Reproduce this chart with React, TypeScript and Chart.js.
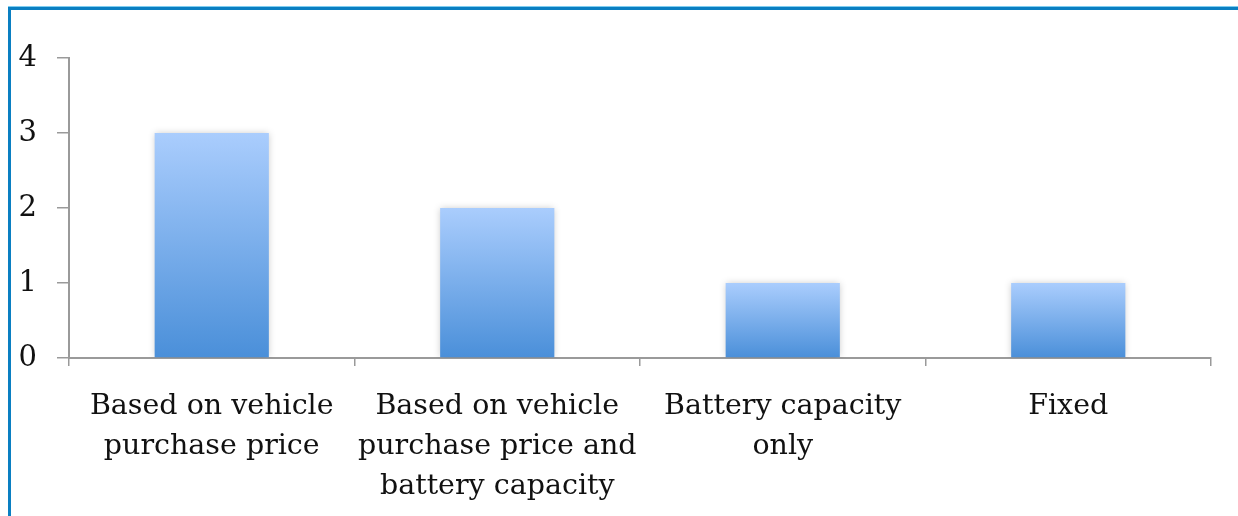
import React, { useEffect, useRef } from "react";
import { Chart, registerables } from "chart.js";

Chart.register(...registerables);

const categories: string[][] = [
  ["Based on vehicle", "purchase price"],
  ["Based on vehicle", "purchase price and", "battery capacity"],
  ["Battery capacity", "only"],
  ["Fixed"],
];
const values: number[] = [3, 2, 1, 1];
const yTicks: number[] = [0, 1, 2, 3, 4];

const FONT = "'DejaVu Serif', 'Liberation Serif', serif";

const shadowPlugin = {
  id: "barShadow",
  beforeDatasetsDraw(chart: any) {
    const c = chart.ctx;
    c.save();
    c.shadowColor = "rgba(0,0,0,0.22)";
    c.shadowBlur = 7;
    c.shadowOffsetX = 0;
    c.shadowOffsetY = 0;
  },
  afterDatasetsDraw(chart: any) {
    chart.ctx.restore();
  },
};

export default function App() {
  const ref = useRef<HTMLCanvasElement>(null);
  useEffect(() => {
    document.body.style.margin = "0";
    const chart = new Chart(ref.current!, {
      type: "bar",
      data: {
        labels: categories,
        datasets: [
          {
            data: values,
            backgroundColor: (ctx: any) => {
              const ch = ctx.chart;
              const { chartArea, scales } = ch;
              if (!chartArea || ctx.type !== "data") return "#7fb0ee";
              const v = ctx.raw as number;
              const top = scales.y.getPixelForValue(v);
              const bottom = scales.y.getPixelForValue(0);
              const g = ch.ctx.createLinearGradient(0, top, 0, bottom);
              g.addColorStop(0, "#aacdfd");
              g.addColorStop(1, "#4a8fd9");
              return g;
            },
            borderWidth: 0,
            categoryPercentage: 1,
            barPercentage: 0.4,
          },
        ],
      },
      options: {
        animation: false,
        responsive: false,
        maintainAspectRatio: false,
        layout: { padding: { top: 58, right: 27, left: 0, bottom: 0 } },
        plugins: {
          legend: { display: false },
          tooltip: { enabled: false },
          title: { display: false },
        },
        scales: {
          x: {
            offset: true,
            grid: {
              display: true,
              drawOnChartArea: false,
              offset: true,
              tickLength: 8,
              color: "#9a9a9a",
              lineWidth: 1.5,
            },
            border: { display: true, color: "#9a9a9a", width: 2 },
            ticks: {
              color: "#111111",
              font: { family: FONT, size: 28.5, lineHeight: 1.4 },
              padding: 21,
              maxRotation: 0,
              minRotation: 0,
              autoSkip: false,
            },
            afterFit: (s: any) => {
              s.height = 158;
            },
          },
          y: {
            min: 0,
            max: 4,
            afterBuildTicks: (s: any) => {
              s.ticks = yTicks.map((v) => ({ value: v }));
            },
            grid: {
              display: true,
              drawOnChartArea: false,
              tickLength: 12,
              color: "#9a9a9a",
              lineWidth: 1.5,
            },
            border: { display: true, color: "#9a9a9a", width: 2 },
            ticks: {
              color: "#111111",
              font: { family: FONT, size: 29 },
              padding: 20,
            },
            afterFit: (s: any) => {
              s.width = 69;
            },
          },
        },
      },
      plugins: [shadowPlugin],
    });
    return () => chart.destroy();
  }, []);
  return (
    <div
      style={{
        position: "fixed",
        left: 0,
        top: 0,
        width: 1238,
        height: 516,
        background: "#ffffff",
        overflow: "hidden",
      }}
    >
      <div
        style={{
          position: "absolute",
          left: 8,
          top: 6,
          width: 1240,
          height: 520,
          borderTop: "1px solid #7fcdf0",
          boxSizing: "border-box",
        }}
      />
      <div
        style={{
          position: "absolute",
          left: 8,
          top: 7,
          width: 1240,
          height: 520,
          borderTop: "3px solid #0a7fc2",
          borderLeft: "3px solid #0a7fc2",
          boxSizing: "border-box",
        }}
      />
      <canvas
        ref={ref}
        width={1238}
        height={516}
        style={{ position: "absolute", left: 0, top: 0, width: 1238, height: 516 }}
      />
    </div>
  );
}
